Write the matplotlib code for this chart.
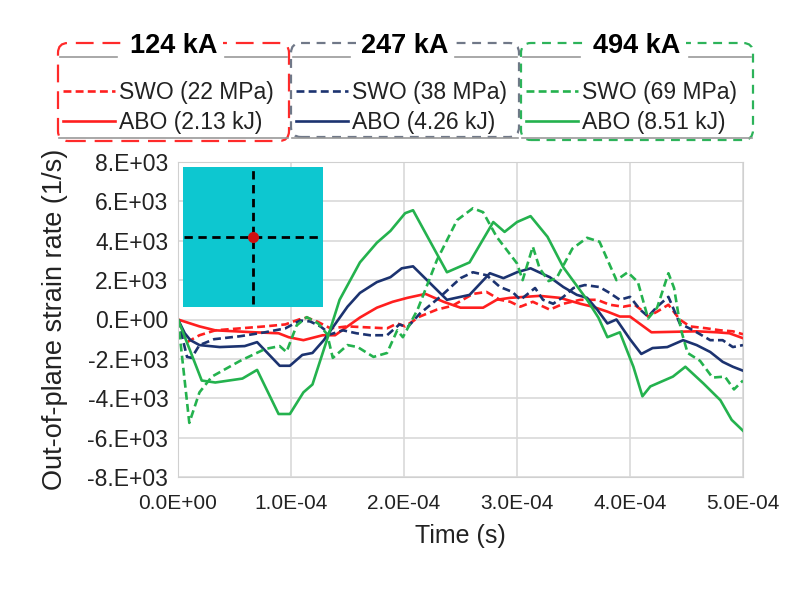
import matplotlib.pyplot as plt
import numpy as np
from matplotlib.patches import FancyBboxPatch
from matplotlib.lines import Line2D
from matplotlib.transforms import IdentityTransform

plt.rcParams['font.family'] = ['Liberation Sans', 'DejaVu Sans']

# time in microseconds, strain rate in 1/s
t_swo22 = [0, 8, 19, 33, 55, 77, 95, 107, 114, 123, 135, 150, 185, 194, 201, 214, 229, 243, 261, 273, 285, 294,
           303, 314, 329, 341, 356, 371, 382, 394, 404, 412, 416, 424, 434, 444, 453, 468, 480, 491, 500]
v_swo22 = [0, -1150, -800, -550, -450, -350, -250, 0, 100, -100, -450, -350, -450, -200, -350, 150, 500, 700, 1300,
           1400, 1000, 900, 650, 900, 500, 800, 1000, 1000, 750, 650, 750, 400, 150, 400, 750, 0, -350, -450,
           -550, -600, -750]

t_abo213 = [0, 19, 33, 68, 89, 98, 111, 128, 139, 150, 161, 176, 190, 203, 219, 235, 250, 270, 282, 294, 320,
            338, 356, 367, 380, 391, 400, 419, 459, 477, 488, 500]
v_abo213 = [0, -350, -550, -650, -700, -900, -1050, -800, -800, -350, 100, 600, 900, 1100, 1300, 900, 600, 600,
            1000, 1100, 1200, 1100, 800, 650, 400, 150, 150, -650, -600, -650, -700, -950]

t_swo38 = [0, 8, 12, 19, 32, 55, 77, 95, 108, 117, 126, 135, 146, 158, 170, 185, 196, 203, 214, 232, 250, 261,
           273, 285, 296, 303, 316, 323, 332, 341, 350, 360, 373, 382, 391, 400, 409, 416, 424, 434, 444, 456,
           471, 482, 491, 500]
v_swo38 = [0, -1900, -1950, -1300, -1000, -850, -650, -450, -50, -100, -350, -750, -550, -700, -800, -800, -250,
           -400, 300, 1150, 2100, 2400, 2250, 1650, 1400, 1000, 1600, 1000, 800, 1150, 1600, 1750, 1650, 1350,
           1000, 1150, 500, 150, 650, 1150, -200, -550, -1050, -1050, -1400, -1300]

t_abo426 = [0, 6, 11, 19, 37, 59, 70, 90, 99, 110, 119, 129, 137, 150, 161, 176, 188, 198, 208, 223, 238, 258,
            276, 288, 300, 312, 329, 341, 353, 362, 371, 380, 388, 400, 410, 420, 433, 447, 459, 471, 482, 491,
            500]
v_abo426 = [0, -700, -1050, -1300, -1400, -1350, -1150, -2350, -2350, -1800, -1700, -1050, -400, 650, 1350, 1900,
            2150, 2600, 2700, 1850, 1000, 1250, 2350, 2100, 2400, 2600, 2150, 1650, 1250, 1100, 500, -200, 0,
            -1000, -1750, -1450, -1400, -1050, -1300, -1650, -2150, -2400, -2600]

t_swo69 = [0, 10, 19, 30, 55, 77, 90, 96, 105, 114, 124, 132, 137, 150, 159, 173, 185, 194, 199, 212, 229, 247,
           261, 270, 282, 300, 305, 314, 320, 328, 335, 349, 362, 373, 388, 398, 407, 416, 424, 434, 439, 445,
           451, 462, 473, 484, 492, 500]
v_swo69 = [0, -5250, -3700, -2900, -2100, -1500, -1350, -1650, -300, 120, -200, -750, -1950, -1300, -1400, -1900,
           -1700, -550, -900, 500, 3000, 5050, 5650, 5450, 4200, 2850, 2000, 3700, 2600, 1950, 2100, 3600, 4150,
           3950, 2000, 2400, 1900, 50, 600, 2350, 1600, -500, -1700, -2100, -2950, -2900, -3550, -3100]

t_abo851 = [0, 21, 33, 57, 70, 89, 99, 111, 119, 132, 143, 161, 176, 188, 201, 208, 238, 258, 279, 289, 300, 312,
            327, 341, 362, 372, 380, 391, 403, 411, 418, 438, 449, 465, 480, 490, 500]
v_abo851 = [0, -3100, -3200, -3000, -2560, -4800, -4800, -3700, -3300, -1000, 1000, 2900, 3900, 4500, 5400, 5550,
            2400, 2900, 4950, 4450, 4950, 5250, 4200, 2650, 1000, 100, -900, -650, -2400, -3900, -3400, -2900,
            -2400, -3250, -4100, -5100, -5650]

red = '#FF1F1F'
navy = '#1C3370'
green = '#24B24E'

series = [
    (t_swo22, v_swo22, red, '--'),
    (t_abo213, v_abo213, red, '-'),
    (t_swo38, v_swo38, navy, '--'),
    (t_abo426, v_abo426, navy, '-'),
    (t_swo69, v_swo69, green, '--'),
    (t_abo851, v_abo851, green, '-'),
]

W, H = 804, 592
fig = plt.figure(figsize=(W / 100, H / 100), dpi=100)


def fx(x):
    return x / W


def fy(y):
    return 1 - y / H


ax = fig.add_axes([fx(178), fy(477), (743 - 178) / W, (477 - 162) / H])
for t, v, c, ls in series:
    ax.plot(np.array(t) * 1e-6, v, color=c, ls=ls, lw=1.9, dashes=(3, 1.6) if ls == '--' else (None, None))

ax.set_xlim(0, 5e-4)
ax.set_ylim(-8000, 8000)
ax.set_xticks(np.arange(0, 5.01e-4, 1e-4))
ax.set_yticks(np.arange(-8000, 8001, 2000))
ax.set_xticklabels(['{:.1E}'.format(x) for x in ax.get_xticks()])
ax.set_yticklabels(['{:#.0E}'.format(y) for y in ax.get_yticks()])
ax.tick_params(length=0, colors='#222222')
ax.tick_params(axis='x', labelsize=15, pad=12)
ax.tick_params(axis='y', labelsize=16.5, pad=7)
ax.grid(color='#d9d9d9', lw=1.2)
ax.set_axisbelow(True)
for s in ax.spines.values():
    s.set_color('#d0d0d0')
ax.set_xlabel('Time (s)', fontsize=18, color='#222222', labelpad=8)
ax.set_ylabel('Out-of-plane strain rate (1/s)', fontsize=19.5, color='#222222', labelpad=14)

# inset: measurement point on the plate
ins = fig.add_axes([fx(183), fy(307), 140 / W, 140 / H])
ins.set_facecolor('#0DC7D0')
ins.plot([0.5, 0.5], [0.02, 0.98], color='black', ls=(0, (3, 2)), lw=2)
ins.plot([0.01, 0.99], [0.5, 0.5], color='black', ls=(0, (3, 2)), lw=2)
ins.plot(0.5, 0.5, 'o', color='#D01010', ms=7)
ins.set_xlim(0, 1)
ins.set_ylim(0, 1)
ins.set_xticks([])
ins.set_yticks([])
for s in ins.spines.values():
    s.set_visible(False)

# grouped legend boxes
groups = [
    ('124 kA', 'SWO (22 MPa)', 'ABO (2.13 kJ)', red, 57, 290, 141, (0, (8, 4))),
    ('247 kA', 'SWO (38 MPa)', 'ABO (4.26 kJ)', navy, 290, 520, 137, (0, (4, 3))),
    ('494 kA', 'SWO (69 MPa)', 'ABO (8.51 kJ)', green, 520, 754, 140, (0, (4, 3))),
]
border = {red: '#FF2A2A', navy: '#707888', green: '#2DB35A'}
pix = IdentityTransform()
for title, swo, abo, c, x0, x1, yb, bls in groups:
    # gray frame lines of the original legend
    fig.add_artist(Line2D([x0 + 2, x1 - 2], [H - 138, H - 138], color='#9a9a9a', lw=1.2, transform=pix))
    box = FancyBboxPatch((x0 + 1, H - yb), x1 - x0 - 2, yb - 43, boxstyle='round,pad=0,rounding_size=10',
                         fc='none', ec=border[c], lw=1.6, ls=bls, transform=pix)
    fig.add_artist(box)
    fig.add_artist(Line2D([x0 + 3, x0 + 60], [H - 57, H - 57], color='#9a9a9a', lw=1.2, transform=pix))
    fig.add_artist(Line2D([x1 - 65, x1 - 3], [H - 57, H - 57], color='#9a9a9a', lw=1.2, transform=pix))
    xm = (x0 + x1) / 2
    fig.text(fx(xm), fy(46), title, fontsize=19.5, fontweight='bold', ha='center', va='center',
             bbox=dict(fc='white', ec='none', pad=4))
    fig.add_artist(Line2D([x0 + 6, x0 + 58], [H - 91, H - 91], color=c, lw=1.9, ls=(0, (3, 1.6)), transform=pix))
    fig.add_artist(Line2D([x0 + 6, x0 + 58], [H - 121, H - 121], color=c, lw=1.9, transform=pix))
    fig.text(fx(x0 + 62), fy(92), swo, fontsize=16.5, va='center', color='#222222')
    fig.text(fx(x0 + 62), fy(122), abo, fontsize=16.5, va='center', color='#222222')

fig.savefig('out.png', dpi=100)
